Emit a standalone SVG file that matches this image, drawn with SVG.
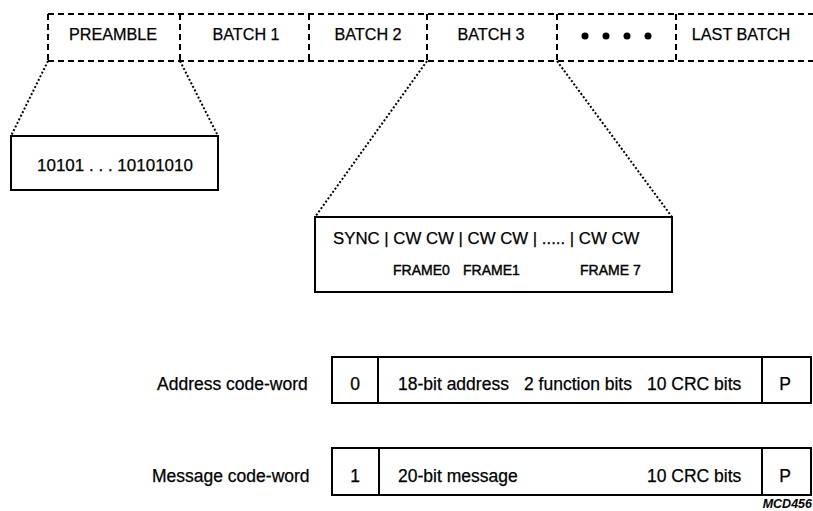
<svg xmlns="http://www.w3.org/2000/svg" width="813" height="511" viewBox="0 0 813 511">
<style>
text{font-family:"Liberation Sans",Arial,sans-serif;fill:#000;stroke:#000;stroke-width:0.25}
.top{font-size:16.2px;text-anchor:middle}
.t{font-size:17.5px}
.f{font-size:14px;stroke-width:0.4}
.c{text-anchor:middle}
.dash{fill:none;stroke:#000;stroke-width:2;stroke-dasharray:6 4}
.dot{fill:none;stroke:#000;stroke-width:2;stroke-dasharray:2 2}
.box{fill:#fff;stroke:#000;stroke-width:2}
.ln{stroke:#000;stroke-width:2}
</style>
<rect width="813" height="511" fill="#fff"/>
<g id="batch-row">
<path class="dash" d="M48,14H813M48,61H813M48,14V61M180,14V61M309,14V61M427,14V61M557,14V61M676,14V61"/>
<text class="top" x="113" y="40">PREAMBLE</text>
<text class="top" x="246" y="40">BATCH 1</text>
<text class="top" x="368" y="40">BATCH 2</text>
<text class="top" x="491" y="40">BATCH 3</text>
<g fill="#000"><circle cx="585" cy="36" r="3.5"/><circle cx="606" cy="36" r="3.5"/><circle cx="627" cy="36" r="3.5"/><circle cx="648" cy="36" r="3.5"/></g>
<text class="top" x="741" y="40">LAST BATCH</text>
</g>
<g id="connectors">
<path class="dot" d="M48,61L11,136M180,61L218,136M427,61L315,217M557,61L672,217"/>
</g>
<g id="preamble-detail">
<rect class="box" x="11" y="136" width="207" height="54"/>
<text x="37" y="171" style="font-size:17px">10101 . . . 10101010</text>
</g>
<g id="batch-detail">
<rect class="box" x="315" y="217" width="357" height="75"/>
<text x="333" y="244" style="font-size:16.8px">SYNC | CW CW | CW CW | ..... | CW CW</text>
<text class="f" x="393" y="275">FRAME0</text>
<text class="f" x="463" y="275">FRAME1</text>
<text class="f" x="580" y="275">FRAME 7</text>
</g>
<g id="address-codeword">
<text class="t" x="157" y="390">Address code-word</text>
<rect class="box" x="332" y="357" width="479" height="46"/>
<path class="ln" d="M378,357V403M762,357V403"/>
<text class="t c" x="355" y="390">0</text>
<text class="t" x="398" y="390">18-bit address</text>
<text class="t" x="524" y="390">2 function bits</text>
<text class="t" x="647" y="390">10 CRC bits</text>
<text class="t c" x="785" y="390">P</text>
</g>
<g id="message-codeword">
<text class="t" x="152" y="482">Message code-word</text>
<rect class="box" x="332" y="448" width="479" height="47"/>
<path class="ln" d="M379,448V495M762,448V495"/>
<text class="t c" x="355" y="482">1</text>
<text class="t" x="398" y="482">20-bit message</text>
<text class="t" x="647" y="482">10 CRC bits</text>
<text class="t c" x="785" y="482">P</text>
</g>
<text x="812" y="508" font-size="12.5" font-style="italic" font-weight="bold" text-anchor="end" style="stroke-width:0">MCD456</text>
</svg>
